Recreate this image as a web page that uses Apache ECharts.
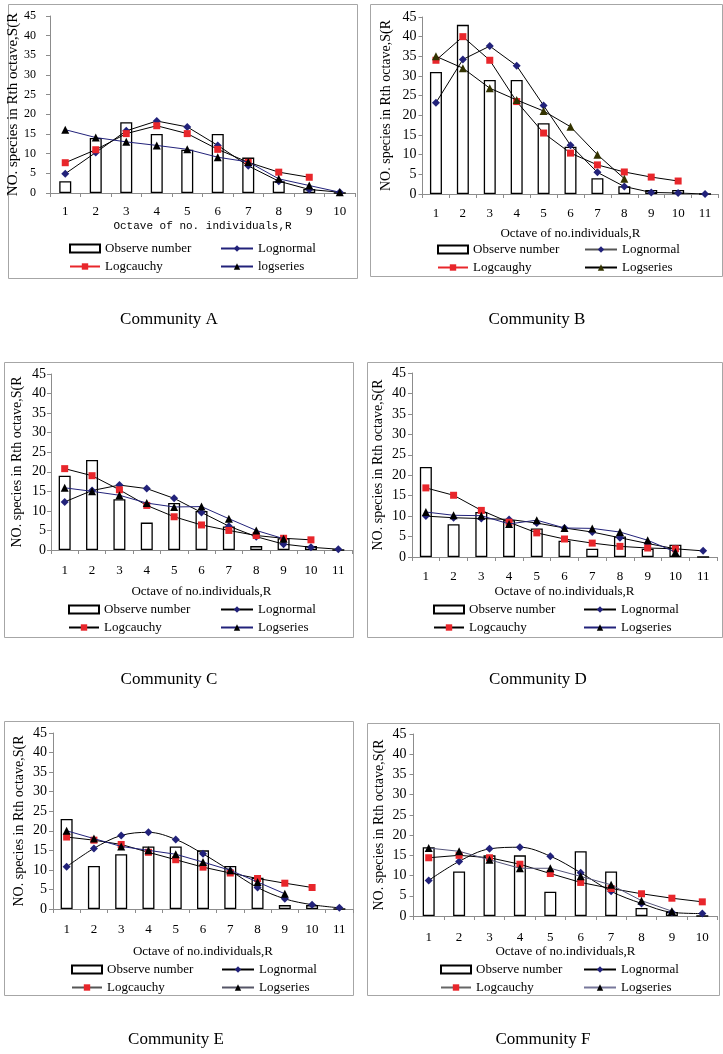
<!DOCTYPE html>
<html>
<head>
<meta charset="utf-8">
<script src="https://cdn.jsdelivr.net/npm/echarts@6/dist/echarts.min.js"></script>
<style>html,body{margin:0;padding:0;background:#fff;}#c{width:723px;height:1054px;}</style>
</head>
<body>
<div id="c"></div>
<script>
// ---- data ----
const octaves10 = ['1','2','3','4','5','6','7','8','9','10'];
const octaves11 = ['1','2','3','4','5','6','7','8','9','10','11'];
const yTickValues = [0,5,10,15,20,25,30,35,40,45];

const observedA  = [3,14,18,15,11,15,9,3,1,0];
const lognormalA = [4.9,10.3,15.8,18.3,16.8,12.1,6.9,3.0,0.9,0.2];
const logcauchyA = [7.7,11,15.1,17.1,15.1,11.1,7.8,5.3,4.0];
const logseriesA = [16.1,14.1,13,12.1,11.1,9.1,7.9,3.6,1.9,0.2];

const observedB  = [31,43,29,29,18,12,4,2,1,1,0];
const lognormalB = [23.2,34.2,37.6,32.6,22.5,12.4,5.5,1.9,0.4,0.25,0];
const logcauchyB = [34,40,34,23.5,15.5,10.4,7.4,5.6,4.3,3.3];
const logseriesB = [35,32,26.9,23.9,21.1,17.1,10,3.9];

const observedC  = [19,23,13,7,12,10,6,1,3,1,0];
const lognormalC = [12.3,15.2,16.6,15.7,13.2,9.6,6.1,3.4,1.5,0.7,0.2];
const logcauchyC = [20.8,19,15.4,11.4,8.5,6.4,5,3.7,3,2.6];
const logseriesC = [15.9,15,14,12,11,11.1,8,5,2.9];

const observedD  = [22,8,11,9,7,4,2,5,2,3,0];
const lognormalD = [10,9.6,9.4,9.2,8.3,7.1,6.1,4.7,3.3,2.0,1.5];
const logcauchyD = [16.9,15.1,11.4,8.5,5.9,4.4,3.4,2.6,2.2,2.0];
const logseriesD = [11,10.2,10.1,8.1,9,7.1,7,6.1,4.1,1.2];

const observedE  = [23,11,14,16,16,15,11,8,1,1,0];
const lognormalE = [10.8,15.5,18.8,19.6,17.8,14.1,9.8,5.5,2.6,1.1,0.3];
const logcauchyE = [18.4,17.6,16.5,14.5,12.6,10.7,9.2,7.8,6.6,5.5];
const logseriesE = [20,18,16,15,14,12,9.9,6.9,3.9];

const observedF  = [17,11,15,15,6,16,11,2,1,0];
const lognormalF = [8.8,13.5,16.6,17,14.8,10.7,6.1,3.1,0.9,0.6];
const logcauchyF = [14.4,15,14.4,12.8,10.5,8.3,6.8,5.5,4.4,3.5];
const logseriesF = [16.8,16,13.9,11.8,11.8,9.8,7.7,3.8,1.2];

const seriesNames = {
  A: ['Observe number','Lognormal','Logcauchy','logseries'],
  B: ['Observe number','Lognormal','Logcaughy','Logseries'],
  C: ['Observe number','Lognormal','Logcauchy','Logseries'],
  D: ['Observe number','Lognormal','Logcauchy','Logseries'],
  E: ['Observe number','Lognormal','Logcauchy','Logseries'],
  F: ['Observe number','Lognormal','Logcauchy','Logseries']
};
const titles = ['Community A','Community B','Community C','Community D','Community E','Community F'];
const yName = 'NO. species in Rth octave,S(R';
const xNameA = 'Octave of no. individuals,R';
const xNameOther = 'Octave of no.individuals,R';

// ---- layout / style ----
const SERIF = 'Liberation Serif, Times New Roman, serif';
const NAVY = '#22227a';
const RED = '#e8262b';

const panels = [
  {key:'A', cats:octaves10, obs:observedA, ln:lognormalA, lc:logcauchyA, ls:logseriesA,
   grid:{left:50, top:16, width:305, height:177}, box:[8,4,349,274],
   title:[169,320], legL:[69,242], legR:[220,242],
   yLabelMargin:14, yLabelSize:12, yNameGap:16, yNameSize:15, xNameGap:28, xLabelMargin:12,
   xName:xNameA, xNameFont:'Liberation Mono, monospace', xNameSize:11,
   lnLine:'#000', lcLine:'#000', lsLine:NAVY, lsColor:'#000', smooth:false,
   legLn:NAVY, legLc:RED, legLs:NAVY},
  {key:'B', cats:octaves11, obs:observedB, ln:lognormalB, lc:logcauchyB, ls:logseriesB,
   grid:{left:422.5, top:17, width:296, height:177}, box:[370,4,352,272],
   title:[537,320], legL:[437,243], legR:[584,243],
   yLabelMargin:6, yLabelSize:14, yNameGap:29, yNameSize:14, xNameGap:33, xLabelMargin:13,
   xName:xNameOther, xNameFont:SERIF, xNameSize:13,
   lnLine:'#000', lcLine:'#000', lsLine:'#000', lsColor:'#333300', smooth:false,
   legLn:'#555', legLc:RED, legLs:'#000'},
  {key:'C', cats:octaves11, obs:observedC, ln:lognormalC, lc:logcauchyC, ls:logseriesC,
   grid:{left:51, top:374, width:301, height:176}, box:[4,362,349,275],
   title:[169,680], legL:[68,603], legR:[220,603],
   yLabelMargin:5, yLabelSize:14, yNameGap:27, yNameSize:14, xNameGap:35, xLabelMargin:14,
   xName:xNameOther, xNameFont:SERIF, xNameSize:13,
   lnLine:'#000', lcLine:'#000', lsLine:NAVY, lsColor:'#000', smooth:false,
   legLn:'#000', legLc:'#000', legLs:NAVY},
  {key:'D', cats:octaves11, obs:observedD, ln:lognormalD, lc:logcauchyD, ls:logseriesD,
   grid:{left:412, top:373, width:305, height:184}, box:[367,362,355,275],
   title:[538,680], legL:[433,603], legR:[583,603],
   yLabelMargin:6, yLabelSize:14, yNameGap:27, yNameSize:14, xNameGap:28, xLabelMargin:13,
   xName:xNameOther, xNameFont:SERIF, xNameSize:13,
   lnLine:'#000', lcLine:'#000', lsLine:NAVY, lsColor:'#000', smooth:false,
   legLn:'#000', legLc:'#000', legLs:NAVY},
  {key:'E', cats:octaves11, obs:observedE, ln:lognormalE, lc:logcauchyE, ls:logseriesE,
   grid:{left:53, top:733, width:300, height:176}, box:[4,721,349,274],
   title:[176,1040], legL:[71,963], legR:[221,963],
   yLabelMargin:6, yLabelSize:14, yNameGap:27, yNameSize:14, xNameGap:36, xLabelMargin:14,
   xName:xNameOther, xNameFont:SERIF, xNameSize:13,
   lnLine:'#000', lcLine:'#000', lsLine:NAVY, lsColor:'#000', smooth:0.35,
   legLn:'#000', legLc:'#555', legLs:'#556'},
  {key:'F', cats:octaves10, obs:observedF, ln:lognormalF, lc:logcauchyF, ls:logseriesF,
   grid:{left:413.5, top:734, width:304, height:182}, box:[367,723,352,272],
   title:[543,1040], legL:[440,963], legR:[583,963],
   yLabelMargin:7, yLabelSize:14, yNameGap:27, yNameSize:14, xNameGap:29, xLabelMargin:15,
   xName:xNameOther, xNameFont:SERIF, xNameSize:13,
   lnLine:'#000', lcLine:'#000', lsLine:'#55557a', lsColor:'#000', smooth:0.35,
   legLn:'#000', legLc:'#666', legLs:'#77779a'}
];

const grids = [], xAxes = [], yAxes = [], series = [], legends = [], graphics = [];
panels.forEach((p, i) => {
  const names = seriesNames[p.key].map(n => n + '#' + p.key);
  grids.push(Object.assign({containLabel:false}, p.grid));
  xAxes.push({
    type:'category', gridIndex:i, data:p.cats, boundaryGap:true,
    axisLine:{lineStyle:{color:'#8c8c8c', width:1}},
    axisTick:{show:true, length:4, lineStyle:{color:'#8c8c8c'}},
    axisLabel:{fontFamily:SERIF, fontSize:13, color:'#000', margin:p.xLabelMargin, interval:0},
    splitLine:{show:false},
    name:p.xName, nameLocation:'middle', nameGap:p.xNameGap,
    nameTextStyle:{fontFamily:p.xNameFont, fontSize:p.xNameSize, color:'#000'}
  });
  yAxes.push({
    type:'value', gridIndex:i,
    min:yTickValues[0], max:yTickValues[yTickValues.length-1], interval:yTickValues[1]-yTickValues[0],
    axisLine:{show:true, lineStyle:{color:'#8c8c8c', width:1}},
    axisTick:{show:true, length:4, lineStyle:{color:'#8c8c8c'}},
    axisLabel:{fontFamily:SERIF, fontSize:p.yLabelSize, color:'#000', margin:p.yLabelMargin},
    splitLine:{show:false},
    name:yName, nameLocation:'middle', nameGap:p.yNameGap, nameRotate:90,
    nameTextStyle:{fontFamily:SERIF, fontSize:p.yNameSize, color:'#000'}
  });
  series.push({
    name:names[0], type:'bar', xAxisIndex:i, yAxisIndex:i, data:p.obs, barWidth:12,
    itemStyle:{color:'#fff', borderColor:'#000', borderWidth:1.3}, z:1, silent:true
  });
  series.push({
    name:names[1], type:'line', xAxisIndex:i, yAxisIndex:i, data:p.ln, smooth:p.smooth,
    symbol:'diamond', symbolSize:8, itemStyle:{color:NAVY}, lineStyle:{color:p.lnLine, width:1}, z:3, silent:true
  });
  series.push({
    name:names[2], type:'line', xAxisIndex:i, yAxisIndex:i, data:p.lc,
    symbol:'rect', symbolSize:7, itemStyle:{color:RED}, lineStyle:{color:p.lcLine, width:1}, z:4, silent:true
  });
  series.push({
    name:names[3], type:'line', xAxisIndex:i, yAxisIndex:i, data:p.ls,
    symbol:'triangle', symbolSize:8, itemStyle:{color:p.lsColor}, lineStyle:{color:p.lsLine, width:1}, z:5, silent:true
  });
  const legCommon = {
    orient:'vertical', itemWidth:30, itemHeight:8, itemGap:5, padding:0, selectedMode:false,
    textStyle:{fontFamily:SERIF, fontSize:13, color:'#000'},
    formatter:n => n.split('#')[0]
  };
  legends.push(Object.assign({}, legCommon, {
    left:p.legL[0], top:p.legL[1],
    data:[{name:names[0], icon:'rect'}, {name:names[2], lineStyle:{color:p.legLc}}]
  }));
  legends.push(Object.assign({}, legCommon, {
    left:p.legR[0], top:p.legR[1], itemWidth:32,
    data:[{name:names[1], lineStyle:{color:p.legLn}}, {name:names[3], lineStyle:{color:p.legLs}}]
  }));
  graphics.push({
    type:'rect', shape:{x:p.box[0]+0.5, y:p.box[1]+0.5, width:p.box[2], height:p.box[3]},
    style:{fill:'none', stroke:'#a6a6a6', lineWidth:1}, z:-10, silent:true
  });
  graphics.push({
    type:'text', x:p.title[0], y:p.title[1],
    style:{text:titles[i], fill:'#000', font:'17px ' + SERIF, align:'center', verticalAlign:'middle'}
  });
});

const chart = echarts.init(document.getElementById('c'), null, {renderer:'canvas'});
chart.setOption({
  backgroundColor:'#fff',
  animation:false,
  grid:grids, xAxis:xAxes, yAxis:yAxes, series:series, legend:legends,
  graphic:graphics
});
</script>
</body>
</html>
